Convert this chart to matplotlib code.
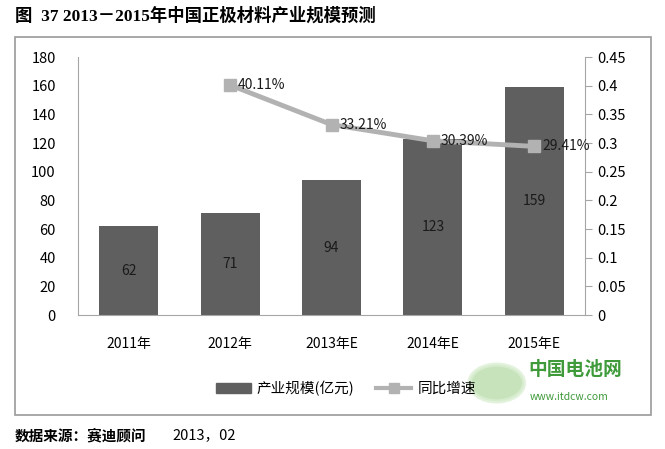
import numpy as np
import matplotlib.pyplot as plt
from matplotlib.patches import Rectangle, Circle
from matplotlib.lines import Line2D

plt.rcParams['font.family'] = ['Noto Sans CJK SC', 'DejaVu Sans']

years = ["2011年", "2012年", "2013年E", "2014年E", "2015年E"]
scale = [62, 71, 94, 123, 159]
growth_years = ["2012年", "2013年E", "2014年E", "2015年E"]
growth = [0.4011, 0.3321, 0.3039, 0.2941]
growth_labels = ["40.11%", "33.21%", "30.39%", "29.41%"]

bar_color = "#5f5f5f"
line_color = "#b2b2b2"

fig = plt.figure(figsize=(6.65, 4.49), dpi=100)
ax = fig.add_axes([0.1173, 0.2984, 0.7624, 0.5746])

x = np.arange(len(years))
bars = ax.bar(x, scale, width=0.58, color=bar_color, zorder=2)
for xi, v in zip(x, scale):
    ax.text(xi, v / 2, str(v), ha="center", va="center", fontsize=10, color="#1a1a1a")

ax.set_ylim(0, 180)
ax.set_yticks(np.arange(0, 181, 20))
ax.set_xlim(-0.5, len(years) - 0.5)
ax.set_xticks(x)
ax.set_xticklabels(years, fontsize=10)
ax.tick_params(axis="x", length=0, pad=16)
ax.tick_params(axis="y", length=0, pad=16, labelsize=10.5)
for s in ["top", "right"]:
    ax.spines[s].set_visible(False)
ax.spines["left"].set_color("#a6a6a6")
ax.spines["bottom"].set_color("#a6a6a6")

ax2 = ax.twinx()
gx = [years.index(g) for g in growth_years]
ax2.plot(gx, growth, color=line_color, lw=3.5, marker="s", markersize=9, zorder=3)
for xi, v, lab in zip(gx, growth, growth_labels):
    ax2.text(xi + 0.08, v, lab, ha="left", va="center", fontsize=10, color="#1a1a1a")
ax2.set_ylim(0, 0.45)
ax2.set_yticks(np.arange(0, 0.451, 0.05))
ax2.set_yticklabels(["0", "0.05", "0.1", "0.15", "0.2", "0.25", "0.3", "0.35", "0.4", "0.45"])
ax2.tick_params(axis="y", length=5, color="#a6a6a6", pad=4, labelsize=10.5)
for s in ["top", "left", "bottom"]:
    ax2.spines[s].set_visible(False)
ax2.spines["right"].set_color("#a6a6a6")

# outer frame
fig.patches.append(Rectangle((0.0226, 0.076), 0.956, 0.842, transform=fig.transFigure,
                             fill=False, edgecolor="#9a9a9a", lw=1.2))

# watermark (behind legend)
fig.patches.append(Circle((0.747, 0.147), 0.041, transform=fig.transFigure,
                          facecolor="#b9dcaa", edgecolor="#dcefd4", lw=3, alpha=0.8))
fig.text(0.794, 0.176, "中国电池网", fontsize=13.5, fontweight="bold", color="#3f9a3a", va="center")
fig.text(0.797, 0.116, "www.itdcw.com", fontsize=7.5, color="#3f9a3a", va="center")

# legend
handles = [
    Rectangle((0, 0), 1, 1, color=bar_color),
    Line2D([0], [0], color=line_color, lw=3, marker="s", markersize=7),
]
leg = fig.legend(handles, ["产业规模(亿元)", "同比增速"], loc="center",
                 bbox_to_anchor=(0.52, 0.135), ncol=2, frameon=False, fontsize=10.5,
                 handlelength=2.4, columnspacing=1.5, handletextpad=0.4)
leg.set_zorder(10)

fig.text(0.022, 0.965, "图  37 2013－2015年中国正极材料产业规模预测", fontsize=12.5,
         fontweight="bold", va="center", family=["Liberation Serif", "Noto Sans CJK SC"])
fig.text(0.022, 0.03, "数据来源：赛迪顾问", fontsize=10.5, fontweight="bold", va="center")
fig.text(0.26, 0.03, "2013，02", fontsize=10.5, va="center")

fig.savefig("out.png", dpi=100)
